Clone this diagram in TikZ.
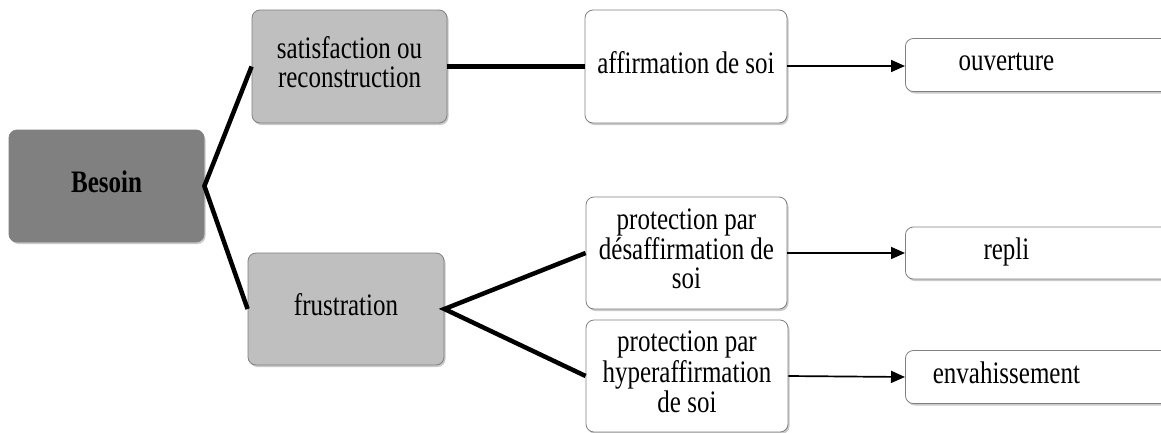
\documentclass[tikz,border=0pt]{standalone}
\usepackage{fontspec}
\usepackage{graphicx}
\setmainfont{Liberation Serif}
\usetikzlibrary{shadows,arrows.meta}
\newcommand\lbl[1]{\scalebox{1}[1.25]{\begin{tabular}{@{}c@{}}#1\end{tabular}}}
\begin{document}
\begin{tikzpicture}[x=1pt,y=-1pt,
  box/.style={draw=black!50, line width=0.8pt, rounded corners=8pt, align=center,
    font=\fontsize{25}{22.4}\selectfont, inner sep=0pt,
    drop shadow={shadow xshift=1.5pt, shadow yshift=-2pt, opacity=0.35, fill=black!60}},
  dark/.style={box, fill=black!50},
  mid/.style={box, fill=black!25},
  light/.style={box, fill=white},
  thickc/.style={line width=4.5pt},
  arr/.style={line width=1.7pt, -{Triangle[length=14pt,width=12pt]}}
]
\useasboundingbox (0,0) rectangle (1161,432);
\clip (0,0) rectangle (1161,432);
\node[dark, minimum width=195pt, minimum height=112pt] (b) at (106.5,186) {\lbl{\textbf{Besoin}}};
\node[mid, minimum width=195pt, minimum height=113pt] (s) at (349.5,66.5) {\lbl{satisfaction ou\\reconstruction}};
\node[mid, minimum width=196pt, minimum height=112pt] (f) at (346,309) {\lbl{frustration}};
\node[light, minimum width=202pt, minimum height=113pt] (a) at (686,66.5) {\lbl{affirmation de soi}};
\node[light, minimum width=201pt, minimum height=112pt] (d) at (686.5,253) {\lbl{protection par\\désaffirmation de\\soi}};
\node[light, minimum width=202pt, minimum height=112pt] (h) at (687,376) {\lbl{protection par\\hyperaffirmation\\de soi}};
\node[light, minimum width=290pt, minimum height=53pt, anchor=west] (o) at (905,65) {\hspace*{-88pt}\lbl{ouverture}};
\node[light, minimum width=290pt, minimum height=52pt, anchor=west] (r) at (905,253) {\hspace*{-88pt}\lbl{repli}};
\node[light, minimum width=290pt, minimum height=53pt, anchor=west] (e) at (905,377) {\hspace*{-88pt}\lbl{envahissement}};
\draw[thickc] (s.west) -- (b.east) -- (f.west);
\draw[thickc] (s.east) -- (s.east -| a.west);
\draw[thickc] (d.west) -- (f.east) -- (h.west);
\draw[arr] (a.east |- 0,66) -- (o.west |- 0,66);
\draw[arr] (d.east) -- (r.west);
\draw[arr] (h.east) -- (e.west);
\end{tikzpicture}
\end{document}
